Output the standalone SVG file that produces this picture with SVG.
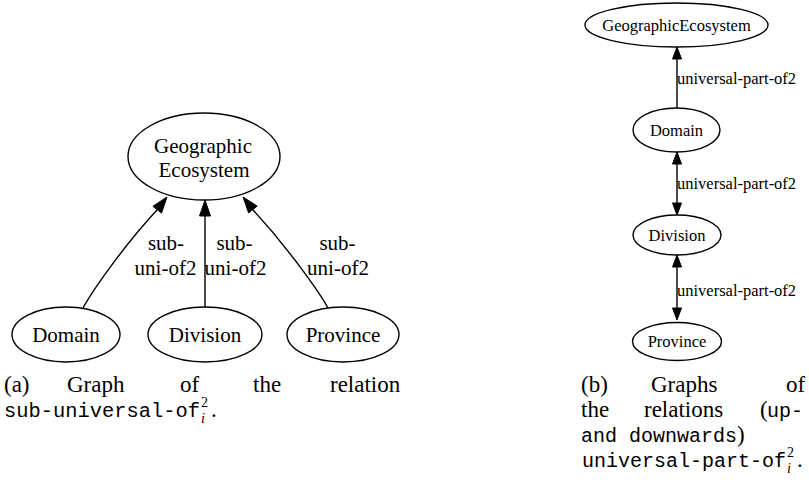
<svg xmlns="http://www.w3.org/2000/svg" width="809" height="494" viewBox="0 0 809 494">
<style>
.node{fill:#fff;stroke:#000;stroke-width:1.4}
.edge{fill:none;stroke:#000;stroke-width:1.4}
.ah{fill:#000;stroke:#000;stroke-width:1}
text{fill:#000}
.t1{font-size:21px;text-anchor:middle}
.t2{font-size:16.5px;text-anchor:middle}
.lb2{font-size:16.5px}
.cap{font-size:23px}
.mono{font-size:20px}
.sc{font-size:14px}
</style>
<rect width="809" height="494" fill="#fff"/>

<!-- Left graph -->
<g id="connectors-a" font-family="Liberation Serif, serif">
  <path class="edge" d="M83,308 C90,295 120,250 157,210"/>
  <polygon class="ah" points="167,197 152.9,206.3 161.5,213.1"/>
  <path class="edge" d="M205,307 L205,216"/>
  <polygon class="ah" points="205,200 199.5,216 210.5,216"/>
  <path class="edge" d="M328,308 C321,295 290,250 253,210"/>
  <polygon class="ah" points="243,197 257.2,206.1 248.6,212.9"/>
  <text class="t1" x="166" y="250">sub-</text>
  <text class="t1" x="165.5" y="275">uni-of2</text>
  <text class="t1" x="234.5" y="250">sub-</text>
  <text class="t1" x="235.5" y="275">uni-of2</text>
  <text class="t1" x="337.5" y="250">sub-</text>
  <text class="t1" x="338" y="275">uni-of2</text>
</g>
<g id="a-geo" font-family="Liberation Serif, serif">
  <ellipse class="node" cx="204" cy="156.5" rx="76" ry="43.5"/>
  <text class="t1" x="203" y="153">Geographic</text>
  <text class="t1" x="204" y="177">Ecosystem</text>
</g>
<g id="a-domain" font-family="Liberation Serif, serif">
  <ellipse class="node" cx="66" cy="334.5" rx="54" ry="27.5"/>
  <text class="t1" x="66" y="342">Domain</text>
</g>
<g id="a-division" font-family="Liberation Serif, serif">
  <ellipse class="node" cx="205" cy="334.5" rx="57" ry="27.5"/>
  <text class="t1" x="205" y="342">Division</text>
</g>
<g id="a-province" font-family="Liberation Serif, serif">
  <ellipse class="node" cx="343" cy="334.5" rx="56" ry="27.5"/>
  <text class="t1" x="343" y="342">Province</text>
</g>

<!-- Right graph -->
<g id="connectors-b" font-family="Liberation Serif, serif">
  <path class="edge" d="M677,108 L677,58"/>
  <polygon class="ah" points="677,47 672.5,59 681.5,59"/>
  <path class="edge" d="M677,164 L677,203"/>
  <polygon class="ah" points="677,152 672.5,164 681.5,164"/>
  <polygon class="ah" points="677,215 672.5,203 681.5,203"/>
  <path class="edge" d="M677,267 L677,308"/>
  <polygon class="ah" points="677,255 672.5,267 681.5,267"/>
  <polygon class="ah" points="677,320 672.5,308 681.5,308"/>
  <text class="lb2" x="677" y="84">universal-part-of2</text>
  <text class="lb2" x="677" y="189">universal-part-of2</text>
  <text class="lb2" x="677" y="296">universal-part-of2</text>
</g>
<g id="b-geo" font-family="Liberation Serif, serif">
  <ellipse class="node" cx="676.5" cy="25" rx="91.5" ry="22"/>
  <text class="t2" x="676.5" y="31">GeographicEcosystem</text>
</g>
<g id="b-domain" font-family="Liberation Serif, serif">
  <ellipse class="node" cx="676.5" cy="130" rx="43.5" ry="22"/>
  <text class="t2" x="676.5" y="136">Domain</text>
</g>
<g id="b-division" font-family="Liberation Serif, serif">
  <ellipse class="node" cx="677" cy="235" rx="44" ry="20"/>
  <text class="t2" x="677" y="241">Division</text>
</g>
<g id="b-province" font-family="Liberation Serif, serif">
  <ellipse class="node" cx="677" cy="341.5" rx="44.5" ry="19"/>
  <text class="t2" x="677" y="347">Province</text>
</g>

<!-- Captions -->
<g id="caption-a" font-family="Liberation Serif, serif">
  <text class="cap" x="4" y="392">(a)</text>
  <text class="cap" x="67" y="392">Graph</text>
  <text class="cap" x="180" y="392">of</text>
  <text class="cap" x="253" y="392">the</text>
  <text class="cap" x="330" y="392">relation</text>
  <text class="mono" font-family="Liberation Mono, monospace" x="4" y="417" textLength="196" lengthAdjust="spacingAndGlyphs">sub-universal-of</text>
  <text class="sc" x="201" y="407">2</text>
  <text class="sc" x="201" y="423" font-style="italic">i</text>
  <text class="cap" x="211" y="417">.</text>
</g>
<g id="caption-b" font-family="Liberation Serif, serif">
  <text class="cap" x="581" y="392">(b)</text>
  <text class="cap" x="651" y="392">Graphs</text>
  <text class="cap" x="786" y="392">of</text>
  <text class="cap" x="581" y="417">the</text>
  <text class="cap" x="644" y="417">relations</text>
  <text class="cap" x="760" y="417">(</text>
  <text class="mono" font-family="Liberation Mono, monospace" x="767" y="417" textLength="36" lengthAdjust="spacingAndGlyphs">up-</text>
  <text class="mono" font-family="Liberation Mono, monospace" x="581" y="442" textLength="156" lengthAdjust="spacingAndGlyphs">and downwards</text>
  <text class="cap" x="737" y="442">)</text>
  <text class="mono" font-family="Liberation Mono, monospace" x="582" y="467" textLength="204" lengthAdjust="spacingAndGlyphs">universal-part-of</text>
  <text class="sc" x="787" y="457">2</text>
  <text class="sc" x="787" y="473" font-style="italic">i</text>
  <text class="cap" x="797" y="467">.</text>
</g>
</svg>
